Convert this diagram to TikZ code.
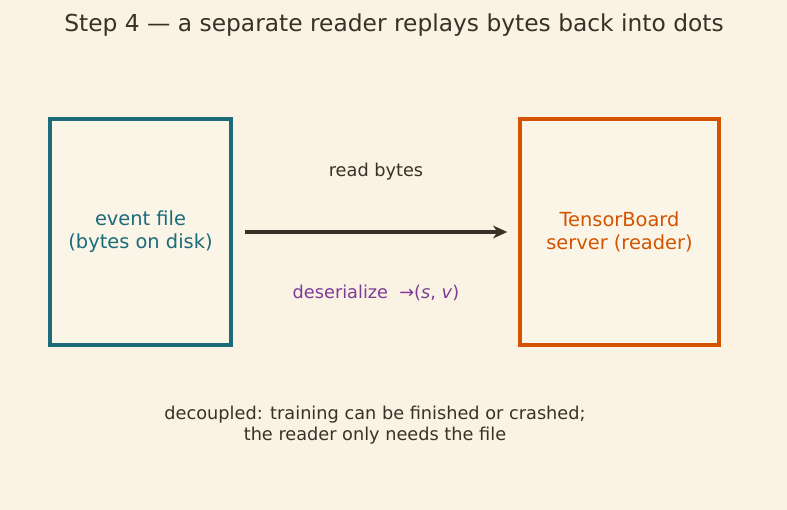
\documentclass[tikz,border=0pt]{standalone}
\usepackage{fontspec}
\setmainfont{DejaVu Sans}
\usetikzlibrary{arrows.meta,positioning}
\definecolor{bg}{HTML}{FAF3E3}
\definecolor{ink}{HTML}{3A3028}
\definecolor{tealc}{HTML}{1B6B7A}
\definecolor{orangec}{HTML}{D35400}
\definecolor{purplec}{HTML}{7D3C98}
\begin{document}
\begin{tikzpicture}[x=0.025cm, y=-0.025cm,
    store/.style={line width=2.5pt, fill=bg!85!white, align=center, font=\fontsize{13.8}{16.2}\selectfont, inner sep=0pt},
    lbl/.style={font=\fontsize{12.6}{14.8}\selectfont, align=center, inner sep=0pt},
    flow/.style={-{Stealth[length=10pt, width=9pt, inset=3pt]}, line width=2.2pt, ink}
  ]
    \fill[bg] (0,0) rectangle (787,510);
    \node[lbl, font=\fontsize{16.6}{20}\selectfont, text=ink] (title) at (394,25) {Step 4 — a separate reader replays bytes back into dots};
    \node[store, draw=tealc, text=tealc, minimum width=181*0.025cm, minimum height=226*0.025cm] (file) at (140.5,232) {event file\\(bytes on disk)};
    \node[store, draw=orangec, text=orangec, minimum width=199*0.025cm, minimum height=226*0.025cm] (server) at (619.5,232) {TensorBoard\\server (reader)};
    \draw[flow] ([xshift=12*0.025cm]file.east) -- ([xshift=-11*0.025cm]server.west);
    \node[lbl, text=ink] (read) at (376,172) {read bytes};
    \node[lbl, text=purplec] (deser) at (376,293) {deserialize \ →(\textit{s}, \textit{v})};
    \node[lbl, text=ink] (note) at (375,425) {decoupled: training can be finished or crashed;\\the reader only needs the file};
\end{tikzpicture}
\end{document}
